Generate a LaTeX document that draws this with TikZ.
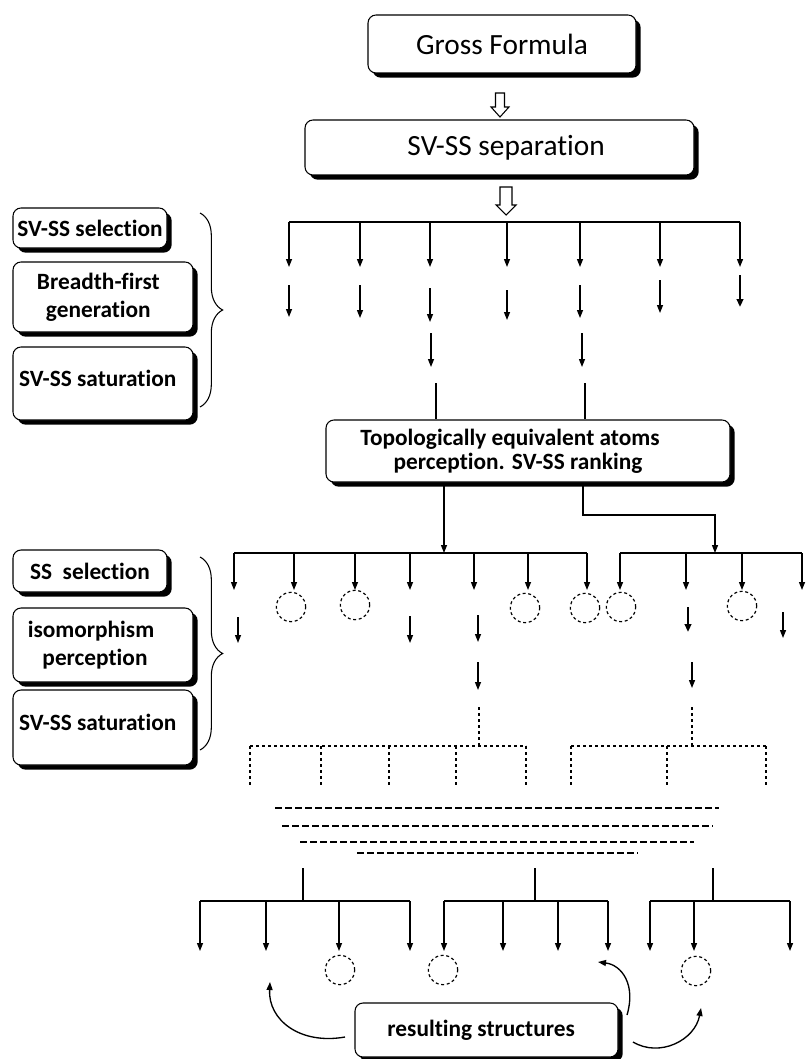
\documentclass[tikz,border=0pt]{standalone}
\usepackage{fontspec}
\setmainfont{Carlito}[Ligatures={NoCommon}]
\usetikzlibrary{arrows.meta,shadows,decorations.pathreplacing}
\begin{document}
\begin{tikzpicture}[x=0.75pt,y=-0.75pt,
  ln/.style={line width=1pt},
  arr/.style={line width=1pt,-{Triangle[length=6pt,width=4.5pt]}},
  tarr/.style={line width=2pt,-{Triangle[length=6pt,width=5pt]}},
  box/.style={draw,line width=0.8pt,rounded corners=6pt,fill=white,inner sep=0pt,align=center,
    drop shadow={shadow xshift=3.5pt,shadow yshift=-3.5pt,fill=black,opacity=1}},
  bfont/.style={font=\fontsize{17.5}{21}\selectfont\bfseries},
  rfont/.style={font=\fontsize{22}{26}\selectfont},
  dsh/.style={line width=1.4pt,dash pattern=on 2.5pt off 2pt},
  dln/.style={line width=1pt,dash pattern=on 5pt off 2.5pt},
  dcirc/.style={circle,draw,line width=0.9pt,dash pattern=on 2.2pt off 2pt,minimum size=22pt,inner sep=0pt},
  brc/.style={decorate,decoration={brace,amplitude=17pt},line width=0.8pt},
  oarr/.style={draw,line width=0.8pt,fill=white}
]
\useasboundingbox (0,0) rectangle (812,1059);

% main boxes
\node[box,rfont,minimum width=201pt,minimum height=43.5pt] (gross) at (502,44) {Gross Formula};
\node[box,rfont,minimum width=291.75pt,minimum height=41.25pt] (sep) at (499.5,147.5) {SV-SS separation\hspace*{-10pt}};
\node[box,minimum width=303pt,minimum height=46.5pt,font=\fontsize{17.5}{18}\selectfont\bfseries] (topo) at (528,451) {Topologically equivalent atoms\hspace*{27pt}\\perception. SV-SS ranking\hspace*{15pt}};
\node[box,bfont,minimum width=197.25pt,minimum height=40.5pt] (res) at (486.5,1030) {resulting structures\hspace*{8pt}};

% left boxes, upper group
\node[box,bfont,minimum width=115.5pt,minimum height=30pt] (sel1) at (90,228) {SV-SS selection};
\node[box,bfont,minimum width=135pt,minimum height=52.5pt] (bfg) at (103,297) {Breadth-first\hspace*{7pt}\\generation\hspace*{7pt}};
\node[box,bfont,minimum width=135pt,minimum height=54.75pt] (sat1) at (103,383.5) {\raisebox{4pt}[\height][\depth]{SV-SS saturation}\hspace*{8pt}};
% left boxes, lower group
\node[box,bfont,minimum width=115.5pt,minimum height=31.5pt] (sel2) at (90,571) {SS\ \ selection};
\node[box,bfont,minimum width=135pt,minimum height=55.5pt] (iso) at (103,645) {isomorphism\hspace*{18pt}\\perception\hspace*{12pt}};
\node[box,bfont,minimum width=135pt,minimum height=56.25pt] (sat2) at (103,727.5) {\raisebox{4pt}[\height][\depth]{SV-SS saturation}\hspace*{8pt}};

% braces
\coordinate (b1t) at (200,213); \coordinate (b1b) at (200,407);
\coordinate (b2t) at (200,557); \coordinate (b2b) at (200,750);
\draw[brc] (b1t) -- (b1b);
\draw[brc] (b2t) -- (b2b);

% open block arrows
\draw[oarr] (495.5,93) -- (504.5,93) -- (504.5,107) -- (509,107) -- (500,117) -- (491,107) -- (495.5,107) -- cycle;
\draw[oarr] (500,187) -- (512,187) -- (512,205) -- (516,205) -- (506,215) -- (496,205) -- (500,205) -- cycle;

% top tree
\coordinate (h1L) at (289,222); \coordinate (h1R) at (740,222);
\draw[ln] (h1L) -- (h1R);
\foreach \x [count=\i] in {289,360,430,507,580,660,740}{
  \coordinate (t\i) at (\x,222); \coordinate (tb\i) at (\x,267);
  \draw[arr] (t\i) -- (tb\i);
}
\foreach \x/\a/\b [count=\i] in {289/285/317,360/285/318,430/288/322,507/290/320,580/285/318,660/280/313}{
  \coordinate (u\i) at (\x,\a); \coordinate (ub\i) at (\x,\b);
  \draw[arr] (u\i) -- (ub\i);
}
\coordinate (u7) at (740,275); \coordinate (ub7) at (740,307);
\draw[tarr] (u7) -- (ub7);
\coordinate (v1) at (431,333); \coordinate (vb1) at (431,367);
\coordinate (v2) at (582,333); \coordinate (vb2) at (582,367);
\draw[arr] (v1) -- (vb1);
\draw[arr] (v2) -- (vb2);
\coordinate (w1) at (436,383); \coordinate (w2) at (585,383);
\draw[ln] (w1) -- (w1 |- topo.north);
\draw[ln] (w2) -- (w2 |- topo.north);

% second level
\coordinate (l2) at (444,553);
\draw[arr] (topo.south -| l2) -- (l2);
\coordinate (rb) at (583,515); \coordinate (r2) at (715,553);
\draw[arr] (topo.south -| rb) -- (rb) -| (r2);
\coordinate (h2L) at (234,553); \coordinate (h2R) at (587,553);
\draw[ln] (h2L) -- (h2R);
\coordinate (h3L) at (620,553); \coordinate (h3R) at (802,553);
\draw[ln] (h3L) -- (h3R);
\foreach \x [count=\i] in {234,294,355,410,474,528,587,620,686,742,802}{
  \coordinate (s\i) at (\x,553); \coordinate (sb\i) at (\x,590);
  \draw[arr] (s\i) -- (sb\i);
}
\foreach \x/\y [count=\i] in {291/607,355/605,525/608,585/608,621/607,742/606}{
  \node[dcirc] (c\i) at (\x,\y) {};
}
\foreach \x/\a/\b [count=\i] in {238/617/643,410/616/643,478/615/642,783/612/638}{
  \coordinate (p\i) at (\x,\a); \coordinate (pb\i) at (\x,\b);
  \draw[arr] (p\i) -- (pb\i);
}
\coordinate (p5) at (688,607); \coordinate (pb5) at (688,632);
\draw[tarr] (p5) -- (pb5);
\coordinate (q1) at (478,662); \coordinate (qb1) at (478,690);
\coordinate (q2) at (692,662); \coordinate (qb2) at (692,688);
\draw[arr] (q1) -- (qb1);
\draw[arr] (q2) -- (qb2);

% dashed brackets
\coordinate (d1) at (479,707); \coordinate (d2) at (692,707);
\draw[dsh] (d1) -- (479,746);
\draw[dsh] (d2) -- (692,746);
\coordinate (k1L) at (250,746); \coordinate (k1R) at (526,746);
\coordinate (k2L) at (571,746); \coordinate (k2R) at (766,746);
\draw[dsh] (k1L) -- (k1R);
\draw[dsh] (k2L) -- (k2R);
\foreach \x in {250,321,389,456,526,571,667,766}{
  \draw[dsh] (\x,746) -- (\x,787);
}
\draw[dln] (275,808) -- (719,808);
\draw[dln] (282,826) -- (713,826);
\draw[dln] (300,842) -- (694,842);
\draw[dln] (357,853) -- (638,853);

% bottom trees
\foreach \x in {303,535,713}{
  \draw[ln] (\x,868) -- (\x,901);
}
\draw[ln] (200,901) -- (410,901);
\draw[ln] (444,901) -- (608,901);
\draw[ln] (650,901) -- (790,901);
\foreach \x [count=\i] in {200,266,339,410,444,503,558,608,650,694,790}{
  \coordinate (e\i) at (\x,901); \coordinate (eb\i) at (\x,951);
  \draw[arr] (e\i) -- (eb\i);
}
\foreach \x/\y [count=\i] in {340/970,443/970,696/971}{
  \node[dcirc] (f\i) at (\x,\y) {};
}

% curved arrows from result box
\coordinate (g1s) at (345,1037); \coordinate (g1e) at (270,982);
\coordinate (g2s) at (627,1015); \coordinate (g2e) at (598,962);
\coordinate (g3s) at (633,1042); \coordinate (g3e) at (701,1008);
\draw[arr] (g1s) .. controls (300,1045) and (268,1020) .. (g1e);
\draw[arr] (g2s) .. controls (636,985) and (622,965) .. (g2e);
\draw[arr] (g3s) .. controls (660,1058) and (695,1040) .. (g3e);
\end{tikzpicture}
\end{document}
